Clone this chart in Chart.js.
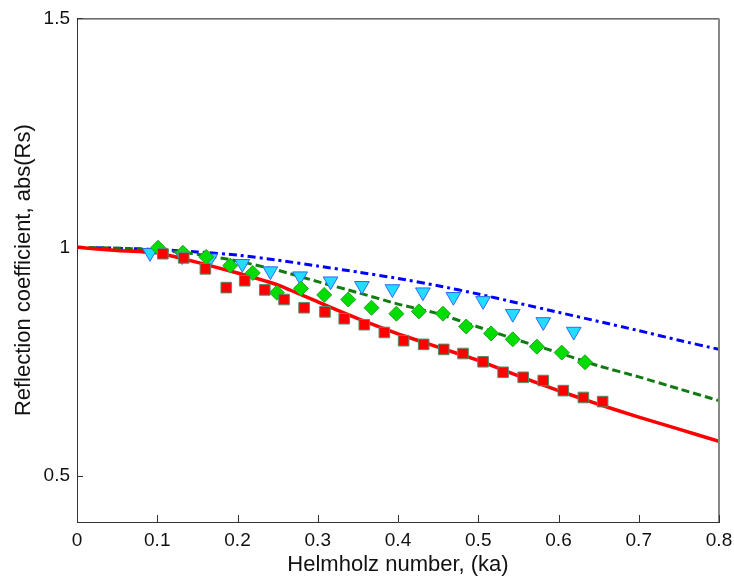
<!DOCTYPE html>
<html>
<head>
<meta charset="utf-8">
<script src="https://cdn.jsdelivr.net/npm/chart.js@4/dist/chart.umd.min.js"></script>
<style>
  html, body { margin: 0; padding: 0; background: #fff; }
  #wrap { width: 734px; height: 577px; }
</style>
</head>
<body>
<div id="wrap"><canvas id="chart"></canvas></div>
<script>
// Measured points (markers)
const squareX = [0.107, 0.133, 0.160, 0.186, 0.209, 0.234, 0.258, 0.283, 0.309, 0.333, 0.358, 0.383,
                 0.407, 0.432, 0.457, 0.481, 0.506, 0.531, 0.556, 0.581, 0.606, 0.631, 0.655];
const squareY = [0.986, 0.977, 0.953, 0.912, 0.927, 0.907, 0.886, 0.868, 0.859, 0.844, 0.831, 0.814,
                 0.796, 0.788, 0.777, 0.768, 0.750, 0.727, 0.716, 0.709, 0.687, 0.672, 0.663];

const diamondX = [0.101, 0.132, 0.161, 0.191, 0.219, 0.249, 0.279, 0.308, 0.338, 0.367, 0.398, 0.426,
                  0.456, 0.485, 0.516, 0.543, 0.573, 0.604, 0.633];
const diamondY = [0.999, 0.988, 0.979, 0.960, 0.944, 0.901, 0.910, 0.896, 0.886, 0.868, 0.855, 0.860,
                  0.855, 0.827, 0.812, 0.799, 0.783, 0.770, 0.749];

const triangleX = [0.091, 0.131, 0.166, 0.206, 0.241, 0.278, 0.316, 0.355, 0.393, 0.431, 0.469, 0.506,
                   0.543, 0.581, 0.619];
const triangleY = [0.988, 0.981, 0.976, 0.964, 0.948, 0.937, 0.926, 0.916, 0.909, 0.902, 0.892, 0.883,
                   0.855, 0.837, 0.816];

// Model curves
const curveX = [0, 0.05, 0.1, 0.15, 0.2, 0.25, 0.3, 0.35, 0.4, 0.45, 0.5, 0.55, 0.6, 0.65, 0.7, 0.75, 0.8];
const redCurve = [1.000, 0.993, 0.988, 0.967, 0.944, 0.918, 0.881, 0.844, 0.811, 0.782, 0.753, 0.719,
                  0.687, 0.657, 0.629, 0.603, 0.576];
const greenCurve = [1.000, 0.998, 0.994, 0.985, 0.970, 0.950, 0.925, 0.901, 0.876, 0.855, 0.826, 0.797,
                    0.770, 0.741, 0.717, 0.691, 0.665];
const blueCurve = [1.000, 0.998, 0.995, 0.990, 0.983, 0.972, 0.959, 0.946, 0.932, 0.916, 0.898, 0.878,
                   0.858, 0.838, 0.818, 0.797, 0.777];

// Axis ticks
const xTickValues = [0, 0.1, 0.2, 0.3, 0.4, 0.5, 0.6, 0.7, 0.8];
const xTickLabels = ['0', '0.1', '0.2', '0.3', '0.4', '0.5', '0.6', '0.7', '0.8'];
const yTickValues = [0.5, 1, 1.5];
const yTickLabels = ['0.5', '1', '1.5'];

const toPoints = (xs, ys) => xs.map((x, i) => ({ x: x, y: ys[i] }));

const FONT = 'Liberation Sans, Arial, Helvetica, sans-serif';

// Box (top/right) plus inward tick marks, MATLAB style
const frameAndTicks = {
    id: 'frameAndTicks',
    afterDraw(chart) {
        const { ctx, chartArea: a, scales } = chart;
        ctx.save();
        ctx.lineWidth = 1;
        ctx.strokeStyle = '#111';
        ctx.beginPath();
        ctx.moveTo(a.left, a.top + 0.5);
        ctx.lineTo(a.right, a.top + 0.5);
        ctx.stroke();
        ctx.strokeStyle = '#888';
        ctx.lineWidth = 2;
        ctx.beginPath();
        ctx.moveTo(a.right, a.top);
        ctx.lineTo(a.right, a.bottom);
        ctx.stroke();

        ctx.strokeStyle = '#333';
        ctx.lineWidth = 1;
        ctx.beginPath();
        xTickValues.forEach(v => {
            const px = Math.round(scales.x.getPixelForValue(v)) + 0.5;
            ctx.moveTo(px, a.bottom);
            ctx.lineTo(px, a.bottom - 7);
        });
        yTickValues.forEach(v => {
            const py = Math.round(scales.y.getPixelForValue(v)) + 0.5;
            ctx.moveTo(a.left, py);
            ctx.lineTo(a.left + 6, py);
        });
        ctx.stroke();
        ctx.restore();
    }
};

new Chart(document.getElementById('chart').getContext('2d'), {
    type: 'scatter',
    data: {
        datasets: [
            {
                label: 'squares',
                data: toPoints(squareX, squareY),
                pointStyle: 'rect',
                pointRadius: 7.5,
                backgroundColor: '#ff0000',
                borderColor: '#4f9070',
                borderWidth: 1,
                showLine: false
            },
            {
                label: 'diamonds',
                data: toPoints(diamondX, diamondY),
                pointStyle: 'rectRot',
                pointRadius: 7.5,
                backgroundColor: '#00dd00',
                borderColor: '#22a022',
                borderWidth: 1,
                showLine: false
            },
            {
                label: 'triangles',
                data: toPoints(triangleX, triangleY),
                pointStyle: 'triangle',
                rotation: 180,
                pointRadius: 8.5,
                backgroundColor: '#22ddff',
                borderColor: '#3366ff',
                borderWidth: 1,
                showLine: false
            },
            {
                label: 'red',
                data: toPoints(curveX, redCurve),
                showLine: true,
                pointRadius: 0,
                borderColor: '#ff0000',
                borderWidth: 3.5,
                tension: 0.1,
                fill: false
            },
            {
                label: 'green',
                data: toPoints(curveX, greenCurve),
                showLine: true,
                pointRadius: 0,
                borderColor: '#117a11',
                borderWidth: 3,
                borderDash: [8, 4],
                tension: 0.2,
                fill: false
            },
            {
                label: 'blue',
                data: toPoints(curveX, blueCurve),
                showLine: true,
                pointRadius: 0,
                borderColor: '#0000ff',
                borderWidth: 3,
                borderDash: [8, 4, 3, 4],
                tension: 0.2,
                fill: false
            }
        ]
    },
    options: {
        responsive: true,
        maintainAspectRatio: false,
        animation: false,
        devicePixelRatio: 1,
        layout: { padding: { top: 17, right: 15, left: 0, bottom: 0 } },
        plugins: {
            legend: { display: false },
            tooltip: { enabled: false }
        },
        scales: {
            x: {
                type: 'linear',
                min: 0,
                max: 0.8,
                afterBuildTicks: scale => { scale.ticks = xTickValues.map(v => ({ value: v })); },
                afterFit: scale => {
                    scale.height = 55;
                    scale.paddingLeft = 0;
                    scale.paddingRight = 0;
                },
                grid: { display: false, drawTicks: false },
                border: { display: true, color: '#333', width: 1 },
                ticks: {
                    padding: 7,
                    color: '#111',
                    font: { family: FONT, size: 19 },
                    maxRotation: 0,
                    autoSkip: false,
                    callback: (v, i) => xTickLabels[i]
                },
                title: {
                    display: true,
                    text: 'Helmholz number, (ka)',
                    color: '#111',
                    font: { family: FONT, size: 22, lineHeight: 1 },
                    padding: { top: 0, bottom: 1 }
                }
            },
            y: {
                type: 'linear',
                min: 0.4,
                max: 1.5,
                afterBuildTicks: scale => { scale.ticks = yTickValues.map(v => ({ value: v })); },
                afterFit: scale => { scale.width = 77; },
                grid: { display: false, drawTicks: false },
                border: { display: true, color: '#333', width: 1 },
                ticks: {
                    padding: 7,
                    color: '#111',
                    font: { family: FONT, size: 19 },
                    autoSkip: false,
                    callback: (v, i) => yTickLabels[i]
                },
                title: {
                    display: true,
                    text: 'Reflection coefficient, abs(Rs)',
                    color: '#111',
                    font: { family: FONT, size: 22, lineHeight: 1.2 },
                    padding: { top: 11, bottom: 0 }
                }
            }
        }
    },
    plugins: [frameAndTicks]
});
</script>
</body>
</html>
